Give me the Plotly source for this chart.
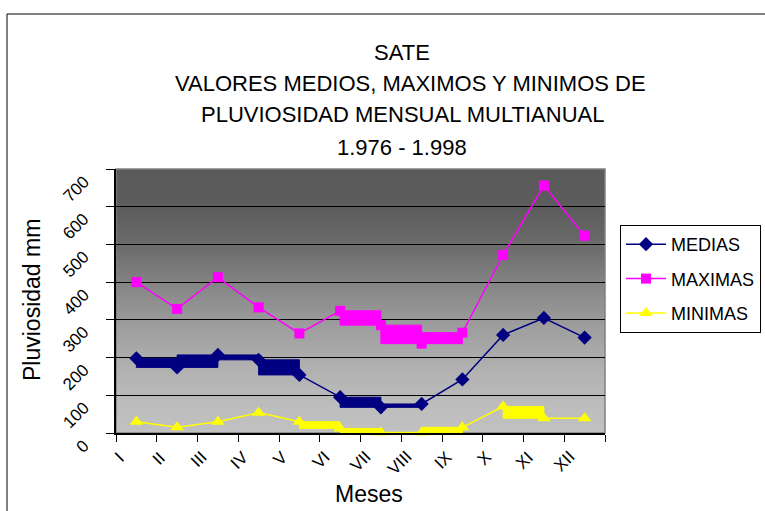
import plotly.graph_objects as go

# ---------------- data ----------------
MESES = ["I", "II", "III", "IV", "V", "VI", "VII", "VIII", "IX", "X", "XI", "XII"]
MEDIAS = [198, 174, 207, 194, 154, 95, 68, 77, 142, 260, 305, 253]
MAXIMAS = [400, 329, 413, 333, 264, 324, 286, 237, 266, 472, 656, 523]
MINIMAS = [30, 15, 30, 54, 30, 12, 1, 1, 15, 70, 39, 39]
Y_TICKS = [0, 100, 200, 300, 400, 500, 600, 700]

TITLE_LINES = ["SATE",
               "VALORES MEDIOS, MAXIMOS Y MINIMOS DE",
               "PLUVIOSIDAD MENSUAL MULTIANUAL",
               "1.976 - 1.998"]

# ---------------- layout geometry ----------------
W, H = 765, 511
L, R, T, B = 116, 160, 169, 78
PW, PH = W - L - R, H - T - B


def px2x(px):
    return (px - L) / PW


def py2y(py):
    return (H - B - py) / PH


X = list(range(1, len(MESES) + 1))
FONT = "Liberation Sans, Arial, sans-serif"

fig = go.Figure()

series = [
    ("MEDIAS", MEDIAS, "#000080", "diamond", 11, [0, 1, 2, 3, 5, 6]),
    ("MAXIMAS", MAXIMAS, "#FF00FF", "square", 10, [5, 6, 7]),
    ("MINIMAS", MINIMAS, "#FFFF00", "triangle-up", 12, [4, 5, 6, 7, 9]),
]

for name, vals, col, sym, msize, boxes in series:
    # thick box-rendered segments seen in the original chart
    for i in boxes:
        xs = [X[i], X[i + 1], X[i + 1], X[i], X[i]]
        ys = [vals[i], vals[i], vals[i + 1], vals[i + 1], vals[i]]
        fig.add_trace(go.Scatter(x=xs, y=ys, mode="lines", fill="toself",
                                 fillcolor=col, line=dict(color=col, width=1),
                                 showlegend=False, hoverinfo="skip",
                                 legendgroup=name))
    fig.add_trace(go.Scatter(x=X, y=vals, name=name, mode="lines+markers",
                             line=dict(color=col, width=1.5),
                             marker=dict(symbol=sym, size=msize, color=col),
                             legendgroup=name, cliponaxis=False))

# ---------------- background gradient ----------------
stops = [(0.0, 90), (0.15, 92), (0.3, 108), (0.45, 135), (0.6, 158),
         (0.75, 176), (0.9, 189), (1.0, 193)]


def grey_at(t):
    for (t0, g0), (t1, g1) in zip(stops[:-1], stops[1:]):
        if t0 <= t <= t1:
            return g0 + (g1 - g0) * (t - t0) / (t1 - t0)
    return stops[-1][1]


shapes = []
NB = 66
for k in range(NB):
    t = (k + 0.5) / NB  # from top
    g = int(round(grey_at(t)))
    shapes.append(dict(type="rect", xref="x domain", yref="y domain",
                       x0=0, x1=1, y0=1 - (k + 1) / NB - 0.002, y1=1 - k / NB,
                       fillcolor=f"rgb({g},{g},{g})", line=dict(width=0),
                       layer="below"))
# plot area border (grey top/right)
shapes.append(dict(type="rect", xref="x domain", yref="y domain",
                   x0=0, x1=1, y0=0, y1=1, line=dict(color="#808080", width=1.5),
                   layer="below"))
# outer chart frame
shapes.append(dict(type="rect", xref="paper", yref="paper",
                   x0=px2x(7), x1=px2x(800), y0=py2y(560), y1=py2y(14),
                   line=dict(color="black", width=1), layer="above"))

annotations = []
# title lines
title_y = [52, 84, 115, 147]
title_x = [402, 410, 402, 402]
for txt, ty, tx in zip(TITLE_LINES, title_y, title_x):
    annotations.append(dict(text=txt, xref="paper", yref="paper",
                            x=px2x(tx), y=py2y(ty), xanchor="center",
                            yanchor="middle", showarrow=False,
                            font=dict(family=FONT, size=22, color="black")))

# y tick labels (rotated)
for v in Y_TICKS:
    lab = str(v)
    w = len(lab) * 9.5
    annotations.append(dict(text=lab, xref="paper", yref="y",
                            x=px2x(86 - 0.354 * w), y=v,
                            yshift=-(10 + 0.354 * w),
                            xanchor="center", yanchor="middle",
                            textangle=-45, showarrow=False,
                            font=dict(family=FONT, size=17, color="black")))

# x tick labels (rotated, at category boundaries)
for j, lab in enumerate(MESES):
    w = sum(4.7 if c == "I" else 11.3 for c in lab)
    annotations.append(dict(text=lab, xref="x", yref="paper",
                            x=j + 0.5, y=0,
                            xshift=4 - 0.2 * w, yshift=-(23 + 0.25 * w),
                            xanchor="center", yanchor="middle",
                            textangle=-45, showarrow=False,
                            font=dict(family=FONT, size=17, color="black")))

# axis titles
annotations.append(dict(text="Pluviosidad mm", xref="paper", yref="paper",
                        x=px2x(32), y=py2y(300), xanchor="center",
                        yanchor="middle", textangle=-90, showarrow=False,
                        font=dict(family=FONT, size=23, color="black")))
annotations.append(dict(text="Meses", xref="paper", yref="paper",
                        x=px2x(369), y=py2y(494), xanchor="center",
                        yanchor="middle", showarrow=False,
                        font=dict(family=FONT, size=23, color="black")))

fig.update_layout(
    width=W, height=H,
    margin=dict(l=L, r=R, t=T, b=B, pad=0, autoexpand=False),
    paper_bgcolor="white",
    plot_bgcolor="#C0C0C0",
    shapes=shapes,
    annotations=annotations,
    showlegend=True,
    legend=dict(x=px2x(620), y=py2y(225), xanchor="left", yanchor="top",
                bordercolor="black", borderwidth=1, bgcolor="white",
                font=dict(family=FONT, size=18, color="black"),
                tracegroupgap=8, itemwidth=40),
    xaxis=dict(range=[0.5, 12.5], tickvals=[i + 0.5 for i in range(13)],
               showticklabels=False, ticks="outside", ticklen=7,
               tickcolor="black", tickwidth=1.3, showgrid=False,
               zeroline=False, showline=True, linecolor="black", linewidth=1.5),
    yaxis=dict(range=[0, 700], tickvals=Y_TICKS, showticklabels=False,
               ticks="outside", ticklen=8, tickcolor="black", tickwidth=1.3,
               showgrid=True, gridcolor="black", gridwidth=1.3,
               zeroline=False, showline=True, linecolor="black", linewidth=1.5),
    hovermode=False,
)

fig.write_html("out.html",
               config={"displayModeBar": False},
               post_script="document.body.style.margin='0';"
                           "document.body.style.padding='0';"
                           "document.body.style.overflow='hidden';")
